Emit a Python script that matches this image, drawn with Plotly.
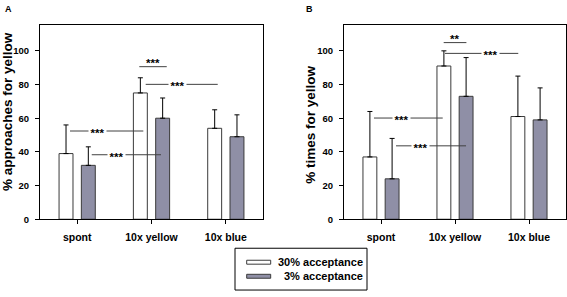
import plotly.graph_objects as go

# ---------------- data ----------------
categories = ["spont", "10x yellow", "10x blue"]
series_names = ["30% acceptance", "3% acceptance"]

a_30 = [39, 75, 54]
a_30_top = [56, 84, 65]
a_3 = [32, 60, 49]
a_3_top = [43, 72, 62]

b_30 = [37, 91, 61]
b_30_top = [64, 100, 85]
b_3 = [24, 73, 59]
b_3_top = [48, 96, 78]

y_ticks = [0, 20, 40, 60, 80, 100]

# significance marks: (x0, x1, y, label, text_x, kind)
sig_a = [
    (0.836, 1.205, 90.6, "***", 1.016, "over"),
    (0.922, 1.891, 80.1, "***", 1.353, "inline"),
    (-0.096, 0.890, 52.4, "***", 0.267, "inline"),
    (0.196, 1.128, 38.3, "***", 0.532, "inline"),
]
sig_b = [
    (0.847, 1.154, 104.9, "**", 0.99, "over"),
    (0.865, 1.855, 98.5, "***", 1.482, "inline"),
    (-0.095, 0.834, 60.1, "***", 0.28, "inline"),
    (0.203, 1.149, 43.6, "***", 0.527, "inline"),
]

W, H = 567, 297
FONT = "Liberation Sans, Arial, sans-serif"
WHITE = "#ffffff"
GRAY = "#8f8fa6"
EDGE = "#3a3a3a"

def px_x(p):
    return p / W

def px_y(p):
    return (H - p) / H

fig = go.Figure()

x_idx = list(range(len(categories)))

def add_panel(v30, t30, v3, t3, xa, ya):
    for vals, tops, col, name in [(v30, t30, WHITE, series_names[0]),
                                  (v3, t3, GRAY, series_names[1])]:
        fig.add_trace(go.Bar(
            x=x_idx, y=vals, name=name, showlegend=False,
            marker=dict(color=col, line=dict(color=EDGE, width=1)),
            error_y=dict(type="data", symmetric=False,
                         array=[t - v for t, v in zip(tops, vals)],
                         arrayminus=[0] * len(vals),
                         color="#000000", thickness=1, width=2.5),
            xaxis=xa, yaxis=ya, hoverinfo="skip",
        ))

add_panel(a_30, a_30_top, a_3, a_3_top, "x", "y")
add_panel(b_30, b_30_top, b_3, b_3_top, "x2", "y2")

y_dom = [px_y(223), px_y(25)]
axis_common_x = dict(
    range=[-0.5, 2.5], tickvals=x_idx, ticktext=categories,
    showline=True, linecolor="#000000", linewidth=1, mirror=True,
    ticks="outside", ticklen=4, tickcolor="#000000", showgrid=False,
    zeroline=False, ticklabelstandoff=4,
    tickfont=dict(family=FONT, size=10.5, color="#000000", weight="bold"),
)
axis_common_y = dict(
    range=[0, 115.6], tickvals=y_ticks,
    showline=True, linecolor="#000000", linewidth=1, mirror=True,
    ticks="outside", ticklen=4, tickcolor="#000000", showgrid=False,
    zeroline=False, domain=y_dom, ticklabelstandoff=4,
    tickfont=dict(family=FONT, size=9.5, color="#000000", weight="bold"),
)

fig.update_layout(
    width=W, height=H,
    margin=dict(l=0, r=0, t=0, b=0),
    paper_bgcolor="#ffffff", plot_bgcolor="#ffffff",
    barmode="group", bargap=0.4, bargroupgap=0.375,
    showlegend=False,
    xaxis=dict(domain=[px_x(40), px_x(263)], anchor="y", **axis_common_x),
    yaxis=dict(anchor="x", **axis_common_y),
    xaxis2=dict(domain=[px_x(344), px_x(566)], anchor="y2", **axis_common_x),
    yaxis2=dict(anchor="x2", **axis_common_y),
)

shapes = []
annots = []

SIG_FONT = dict(family=FONT, size=11.5, color="#000000", weight="bold")

def add_sig(sigs, xr, yr):
    for x0, x1, y, lab, tx, kind in sigs:
        shapes.append(dict(type="line", xref=xr, yref=yr, x0=x0, x1=x1, y0=y, y1=y,
                           line=dict(color="#404040", width=1)))
        if kind == "over":
            annots.append(dict(xref=xr, yref=yr, x=tx, y=y, text=lab, showarrow=False,
                               xanchor="center", yanchor="bottom", yshift=-4,
                               font=SIG_FONT))
        else:
            annots.append(dict(xref=xr, yref=yr, x=tx, y=y, text=lab, showarrow=False,
                               xanchor="center", yanchor="middle", yshift=-1.5,
                               bgcolor="#ffffff", borderpad=1.5,
                               font=SIG_FONT))

add_sig(sig_a, "x", "y")
add_sig(sig_b, "x2", "y2")

# axis titles and panel letters
annots.append(dict(xref="paper", yref="paper", x=px_x(7), y=px_y(114), text="% approaches for yellow",
                   textangle=-90, showarrow=False, xanchor="center", yanchor="middle",
                   font=dict(family=FONT, size=13.5, color="#000000", weight="bold")))
annots.append(dict(xref="paper", yref="paper", x=px_x(311), y=px_y(127), text="% times for yellow",
                   textangle=-90, showarrow=False, xanchor="center", yanchor="middle",
                   font=dict(family=FONT, size=13.5, color="#000000", weight="bold")))
annots.append(dict(xref="paper", yref="paper", x=px_x(8), y=px_y(9), text="A",
                   showarrow=False, xanchor="center", yanchor="middle",
                   font=dict(family=FONT, size=9, color="#000000", weight="bold")))
annots.append(dict(xref="paper", yref="paper", x=px_x(309), y=px_y(9), text="B",
                   showarrow=False, xanchor="center", yanchor="middle",
                   font=dict(family=FONT, size=9, color="#000000", weight="bold")))

# custom legend
shapes.append(dict(type="rect", xref="paper", yref="paper",
                   x0=px_x(235), x1=px_x(367), y0=px_y(295), y1=px_y(252.5),
                   line=dict(color="#000000", width=1), fillcolor="#ffffff"))
for yc, col, name in [(266.7, WHITE, series_names[0]), (281.0, GRAY, series_names[1])]:
    shapes.append(dict(type="rect", xref="paper", yref="paper",
                       x0=px_x(246.7), x1=px_x(270.7), y0=px_y(yc + 2), y1=px_y(yc - 2),
                       line=dict(color=EDGE, width=1), fillcolor=col))
    annots.append(dict(xref="paper", yref="paper", x=px_x(365), y=px_y(yc), text=name,
                       showarrow=False, xanchor="right", yanchor="middle",
                       font=dict(family=FONT, size=11, color="#000000", weight="bold")))

fig.update_layout(shapes=shapes, annotations=annots)

fig.write_html("out.html", config={"displayModeBar": False, "staticPlot": True},
               post_script="document.body.style.margin='0';document.body.style.padding='0';")
